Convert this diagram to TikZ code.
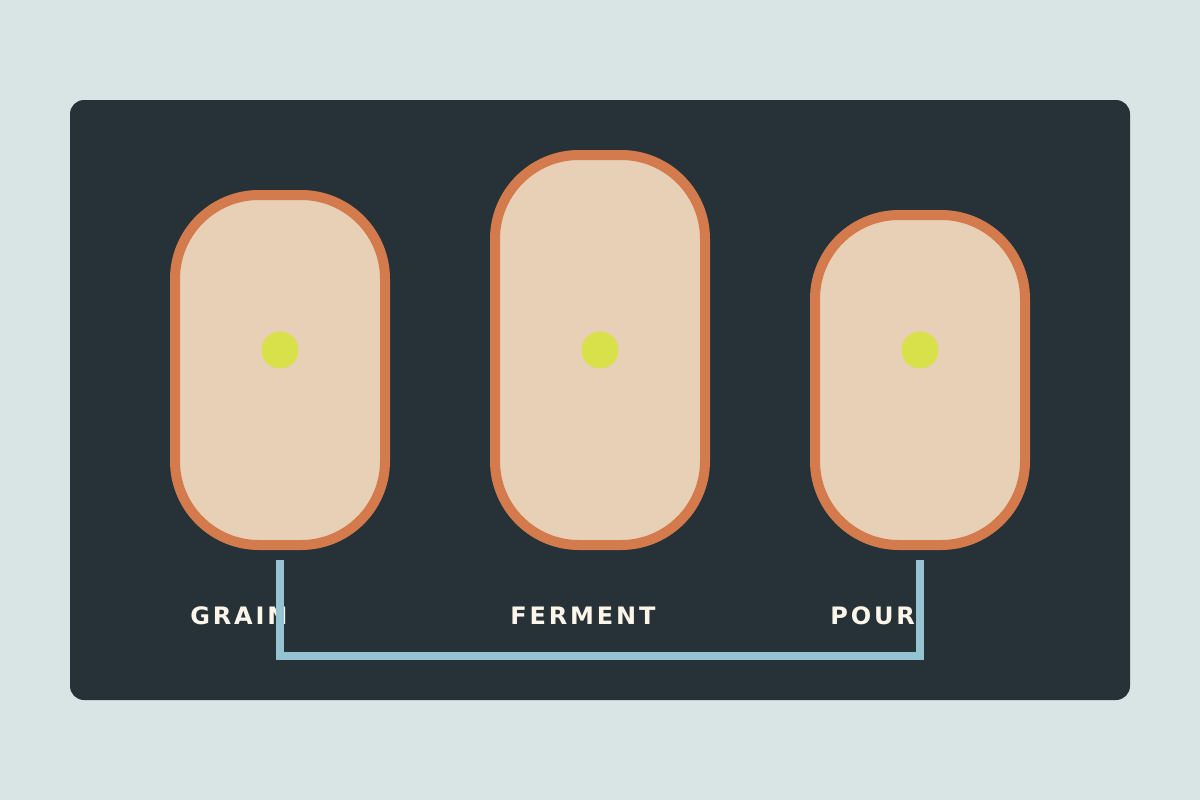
\documentclass[tikz,border=0pt]{standalone}
\usepackage{fontspec}
\usepackage{xcolor}
\usepackage{tikz}
\usetikzlibrary{calc}
\usetikzlibrary{positioning}
\newfontfamily\labelfont[LetterSpace=12]{DejaVu Sans Bold}
\definecolor{sky}{HTML}{D9E5E5}
\definecolor{slate}{HTML}{263238}
\definecolor{husk}{HTML}{E8D0B7}
\definecolor{rust}{HTML}{D37B4C}
\definecolor{seed}{HTML}{D8E04A}
\definecolor{pipe}{HTML}{95C3D1}
\definecolor{cream}{HTML}{FCF5EA}
\begin{document}
\begin{tikzpicture}[x=1pt,y=-1pt,-,semithick]
 				 \tikzstyle{pod}=[draw=rust, fill=husk, line width=10pt, rounded corners=84pt, minimum width=210pt, inner sep=0pt, outer sep=0pt, anchor=south]
 				 \tikzstyle{dot}=[circle, fill=seed, minimum size=37pt, inner sep=0pt]
 				 \tikzstyle{tag}=[text=cream, font=\labelfont\fontsize{24}{28}\selectfont, anchor=base west, inner sep=0pt]
 				 \tikzstyle{link}=[draw=pipe, line width=8pt]
 					 \fill[sky] (0,0) rectangle (1200,800);
 					 \useasboundingbox (0,0) rectangle (1200,800);
 					 \fill[slate, rounded corners=14pt] (70,100) rectangle (1130,700);
 					 \node[pod, minimum height=350pt] (G) at (280,545) {};
  					 \node[pod, minimum height=390pt] (F) at (600,545) {};
  					 \node[pod, minimum height=330pt] (P) at (920,545) {};
 					 \node[dot] (GS) at (280,350) {};
 					 \node[dot] (FS) at (600,350) {};
 					 \node[dot] (PS) at (920,350) {};
 					 \node[tag] (GT) at (190,624) {GRAIN};
 					 \node[tag] (FT) at (510,624) {FERMENT};
 					 \node[tag] (PT) at (830,624) {POUR};
 					 \coordinate (GD) at ($(G.south)+(0,15)$);
 					 \coordinate (PD) at ($(P.south)+(0,15)$);
 					 \path[link]
 					 			(GD) -- ++(0,96) -| (PD);
				\end{tikzpicture}
\end{document}
